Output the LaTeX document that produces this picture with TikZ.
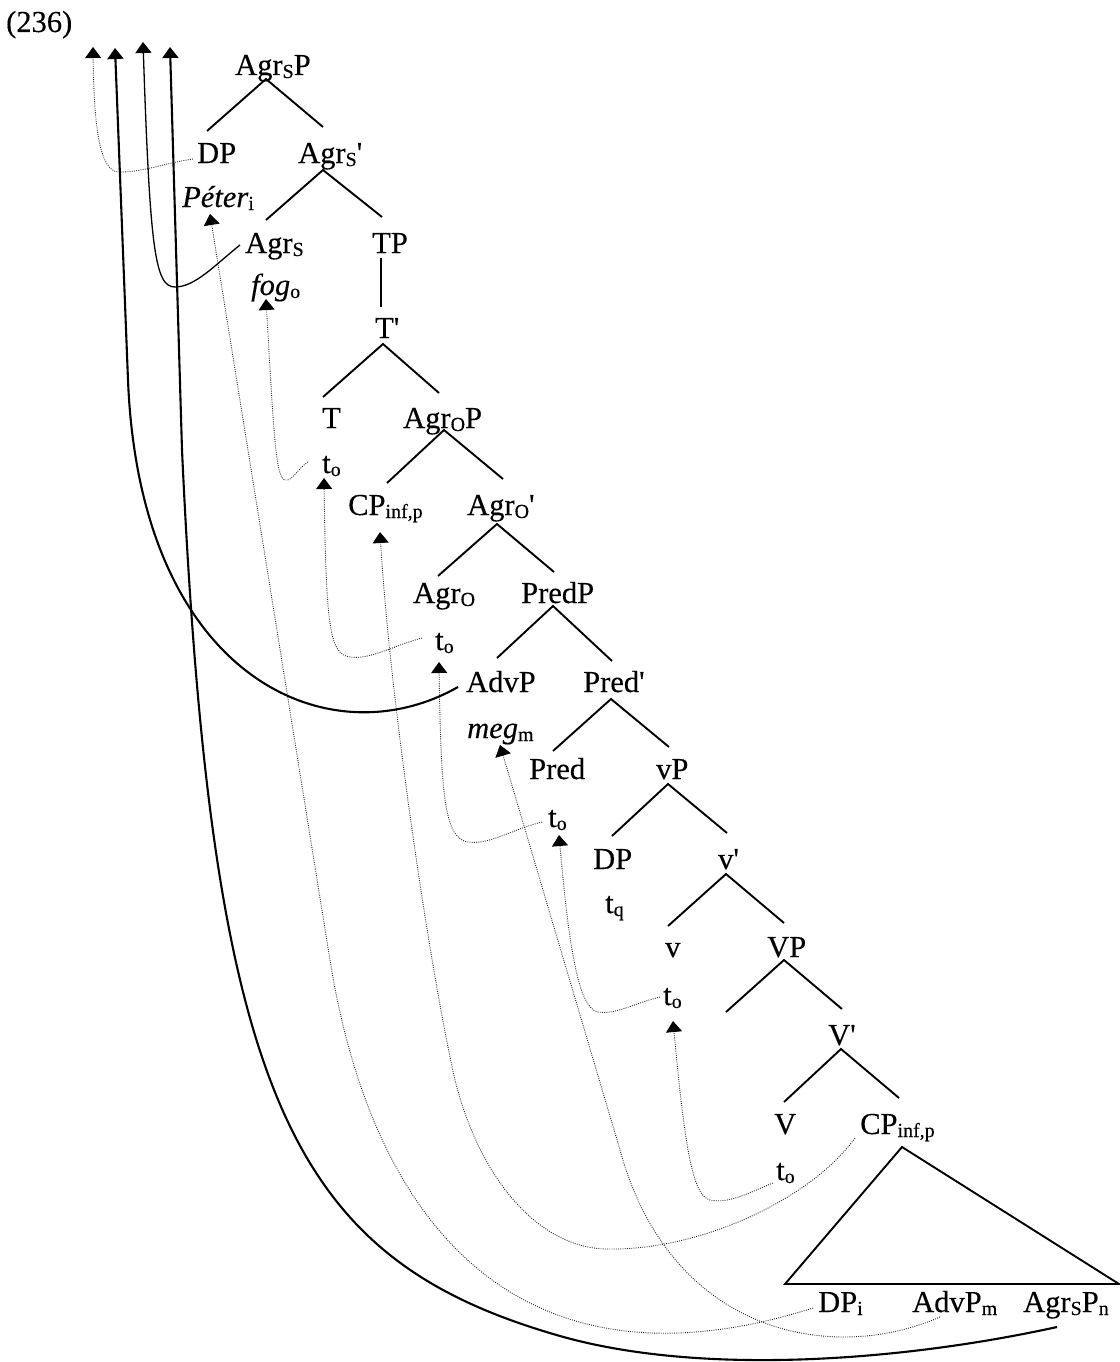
\documentclass[tikz,border=0pt]{standalone}
\usepackage{fontspec}
\setmainfont{Liberation Serif}[Ligatures=TeXOff, FakeBold=0.3]
\usetikzlibrary{arrows.meta,calc}

% lowered, smaller index (Word-style subscript)
\newcommand\lowsub[1]{\raisebox{-3pt}{\fontsize{20}{20}\selectfont #1}}
% a binary fork: apex node+offset, left node+offset, right node+offset
\newcommand\fork[6]{\draw[branch] ($(#3)+(#4)$) -- ($(#1)+(#2)$) -- ($(#5)+(#6)$);}

\begin{document}
\begin{tikzpicture}[
  x=1pt, y=-1pt,
  lab/.style={inner sep=0pt, anchor=base west, font=\fontsize{30.5}{36}\selectfont},
  branch/.style={line width=1.9pt},
  move/.style={line width=0.9pt, dash pattern=on 0.9pt off 1.3pt, black!85},
  hop/.style={line width=2.1pt},
  thinhop/.style={line width=1.3pt},
  tip/.style={-{Triangle[width=16pt,length=11pt,color=black]}},
]
\useasboundingbox (0,0) rectangle (1119,1362);

% ---------- labels ----------
\node[lab] (ex)      at (6,32)     {(236)};
\node[lab] (agrsp)   at (235,75)   {Agr\lowsub{S}P};
\node[lab] (dp1)     at (197,163)  {DP};
\node[lab] (agrsbar) at (298,163)  {Agr\lowsub{S}'};
\node[lab] (peter)   at (182,207)  {\textit{Péter}\lowsub{i}};
\node[lab] (agrs)    at (245,253)  {Agr\lowsub{S}};
\node[lab] (tp)      at (372,253)  {TP};
\node[lab] (fog)     at (251,295)  {\textit{fog}\lowsub{o}};
\node[lab] (tbar)    at (375,338)  {T'};
\node[lab] (t)       at (322,428)  {T};
\node[lab] (agrop)   at (403,428)  {Agr\lowsub{O}P};
\node[lab] (to1)     at (322,473)  {t\lowsub{o}};
\node[lab] (cp1)     at (348,515)  {CP\lowsub{inf,p}};
\node[lab] (agrobar) at (467,515)  {Agr\lowsub{O}'};
\node[lab] (agro)    at (413,603)  {Agr\lowsub{O}};
\node[lab] (predp)   at (521,603)  {PredP};
\node[lab] (to2)     at (435,650)  {t\lowsub{o}};
\node[lab] (advp)    at (466,692)  {AdvP};
\node[lab] (predbar) at (583,692)  {Pred'};
\node[lab] (meg)     at (467,738)  {\textit{meg}\lowsub{m}};
\node[lab] (pred)    at (529,779)  {Pred};
\node[lab] (vp)      at (656,779)  {vP};
\node[lab] (to3)     at (548,827)  {t\lowsub{o}};
\node[lab] (dp2)     at (593,869)  {DP};
\node[lab] (vbar)    at (718,869)  {v'};
\node[lab] (tq)      at (605,913)  {t\lowsub{q}};
\node[lab] (sv)      at (665,957)  {v};
\node[lab] (bigvp)   at (767,957)  {VP};
\node[lab] (to4)     at (663,1005) {t\lowsub{o}};
\node[lab] (bigvbar) at (828,1045) {V'};
\node[lab] (bigv)    at (774,1134) {V};
\node[lab] (cp2)     at (860,1134) {CP\lowsub{inf,p}};
\node[lab] (to5)     at (776,1180) {t\lowsub{o}};
\node[lab] (dpi)     at (818,1312) {DP\lowsub{i}};
\node[lab] (advpm)   at (912,1312) {AdvP\lowsub{m}};
\node[lab] (agrspn)  at (1023,1312){Agr\lowsub{S}P\lowsub{n}};

% ---------- tree branches ----------
\fork{agrsp.base west}{31,4}{dp1.base west}{10,-32}{agrsbar.base west}{25,-36}
\fork{agrsbar.base west}{25,7}{agrs.base west}{21,-33}{tp.base west}{10,-36}
\draw[branch] ($(tp.base west)+(9,5)$) -- ($(tbar.base west)+(6,-31)$);
\fork{tbar.base west}{8,6}{t.base west}{1,-31}{agrop.base west}{36,-35}
\fork{agrop.base west}{41,2}{cp1.base west}{39,-32}{agrobar.base west}{36,-36}
\fork{agrobar.base west}{30,9}{agro.base west}{25,-27}{predp.base west}{33,-31}
\fork{predp.base west}{32,3}{advp.base west}{31,-34}{predbar.base west}{29,-31}
\fork{predbar.base west}{28,7}{pred.base west}{24,-28}{vp.base west}{13,-32}
\fork{vp.base west}{12,5}{dp2.base west}{19,-33}{vbar.base west}{9,-36}
\fork{vbar.base west}{8,5}{sv.base west}{3,-31}{bigvp.base west}{17,-34}
\fork{bigvp.base west}{17,3}{bigvp.base west}{-41,55}{bigvbar.base west}{14,-36}
\fork{bigvbar.base west}{13,4}{bigv.base west}{10,-32}{cp2.base west}{39,-36}
% collapsed CP
\draw[branch] ($(cp2.base west)+(42,13)$) -- ($(dpi.base west)+(-33,-28)$)
  -- ($(agrspn.base west)+(96,-28)$) -- cycle;

% ---------- landing sites of the arrows ----------
\coordinate (up1) at (93,47);
\coordinate (up2) at (115,48);
\coordinate (up3) at (143,42);
\coordinate (up4) at (170,47);
\coordinate (peter-in) at ($(peter.base west)+(28,7)$);
\coordinate (fog-in)   at ($(fog.base west)+(15,4)$);
\coordinate (to1-in)   at ($(to1.base west)+(2,5)$);
\coordinate (cp1-in)   at ($(cp1.base west)+(32,17)$);
\coordinate (to2-in)   at ($(to2.base west)+(4,12)$);
\coordinate (meg-in)   at ($(meg.base west)+(33,7)$);
\coordinate (to3-in)   at ($(to3.base west)+(11,8)$);
\coordinate (to4-in)   at ($(to4.base west)+(10,16)$);

% ---------- dotted movement chains ----------
\draw[move, tip] ($(dp1.base west)+(-4,-4)$) .. controls (165,163) and (140,173) .. (118,172)
  .. controls (100,170) and (94,130) .. (up1);
\draw[move, tip] ($(to1.base west)+(-14,-11)$) .. controls (298,468) and (292,482) .. (285,480)
  .. controls (276,478) and (274,440) .. (fog-in);
\draw[move, tip] ($(to2.base west)+(-13,-12)$) .. controls (395,645) and (370,660) .. (350,657)
  .. controls (330,654) and (326,630) .. (to1-in);
\draw[move, tip] ($(to3.base west)+(-6,-5)$) .. controls (510,830) and (490,845) .. (468,842)
  .. controls (445,838) and (441,800) .. (to2-in);
\draw[move, tip] ($(to4.base west)+(-3,-8)$) .. controls (635,1003) and (615,1015) .. (598,1012)
  .. controls (580,1008) and (570,960) .. (to3-in);
\draw[move, tip] ($(to5.base west)+(-3,3)$) .. controls (750,1192) and (730,1204) .. (710,1200)
  .. controls (693,1196) and (685,1150) .. (to4-in);
\draw[move, tip] ($(dpi.base west)+(-5,-4)$) .. controls (513,1403) and (371,1217) .. (330,960)
  -- (peter-in);
\draw[move, tip] ($(cp2.base west)+(-5,4)$) .. controls (810,1200) and (700,1250) .. (610,1249)
  .. controls (540,1250) and (480,1180) .. (455,1080)
  .. controls (430,970) and (390,700) .. (cp1-in);
\draw[move, tip] ($(advpm.base west)+(28,5)$) .. controls (830,1365) and (670,1333) .. (620,1150)
  -- (meg-in);

% ---------- solid raising arcs ----------
\draw[thinhop, tip] ($(agrs.base west)+(-5,-8)$) .. controls (215,265) and (195,287) .. (175,287)
  .. controls (155,287) and (150,250) .. (up3);
\draw[hop, tip] ($(advp.base west)+(-8,-5)$) .. controls (330,760) and (140,680) .. (128,380)
  -- (up2);
\draw[hop, tip] ($(agrspn.base west)+(34,15)$) .. controls (907,1360) and (704,1377) .. (560,1336)
  .. controls (291,1259) and (212,1099) .. (182,450) -- (up4);
\end{tikzpicture}
\end{document}
